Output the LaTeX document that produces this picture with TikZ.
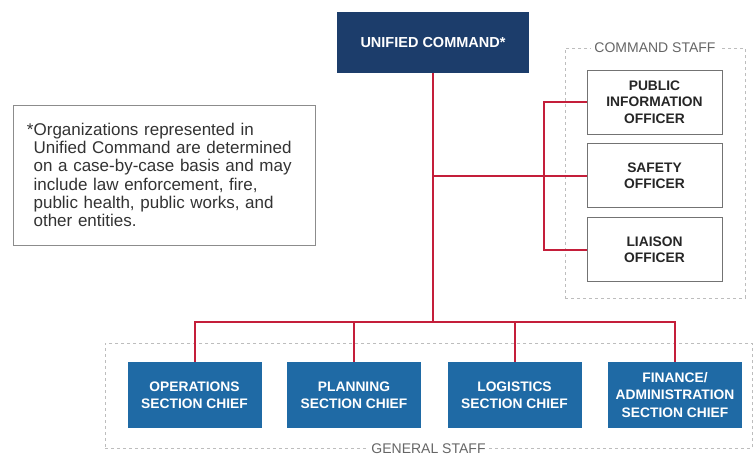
\documentclass[tikz,border=0pt]{standalone}
\usepackage{fontspec}
\setmainfont{Liberation Sans}
\definecolor{ucnavy}{HTML}{1C3D6B}
\definecolor{gsblue}{HTML}{1F6AA5}
\definecolor{linkred}{HTML}{C41E3A}
\definecolor{framegray}{HTML}{BDBDBD}
\definecolor{labelgray}{HTML}{666666}
\tikzstyle{orglink}=[draw=linkred,line width=2pt]
\tikzstyle{commandbox}=[fill=ucnavy,text=white,font=\bfseries\fontsize{14.5}{16}\selectfont,minimum width=192pt,minimum height=61pt]
\tikzstyle{sectionbox}=[fill=gsblue,text=white,align=center,font=\bfseries\fontsize{13.8}{17.5}\selectfont,minimum width=134pt,minimum height=66pt]
\tikzstyle{officerbox}=[draw=black!55,line width=0.9pt,fill=white,align=center,text=black!85,font=\bfseries\fontsize{13.8}{16.5}\selectfont,minimum width=135pt,minimum height=64pt]
\tikzstyle{staffframe}=[draw=framegray,dashed,line width=0.9pt]
\tikzstyle{stafflabel}=[fill=white,text=labelgray,inner sep=3pt,font=\fontsize{14}{16}\selectfont]
\tikzstyle{notebox}=[draw=black!45,line width=0.8pt,minimum width=302pt,minimum height=140pt,text width=274pt,align=left,text=black!80,font=\fontsize{17}{18.2}\selectfont]

\begin{document}
\begin{tikzpicture}
\useasboundingbox[fill=white] (0pt,0pt) rectangle (754pt,-456pt);

% staff frames
\node[staffframe,minimum width=180pt,minimum height=250pt] (CSFRAME) at (655pt,-173pt) {};
\node[stafflabel] (CSLABEL) at (CSFRAME.north) {COMMAND STAFF};
\node[staffframe,minimum width=647pt,minimum height=105pt] (GSFRAME) at (428.5pt,-395.5pt) {};
\node[stafflabel] (GSLABEL) at (GSFRAME.south) {GENERAL STAFF};

% boxes
\node[commandbox] (UC) at (433pt,-42.5pt) {UNIFIED COMMAND*};

\node[officerbox] (PIO) at (654.5pt,-102pt) {PUBLIC\\INFORMATION\\OFFICER};
\node[officerbox] (SO) at (654.5pt,-175.5pt) {SAFETY\\OFFICER};
\node[officerbox] (LO) at (654.5pt,-249.5pt) {LIAISON\\OFFICER};

\node[sectionbox] (OPS) at (194.5pt,-395pt) {OPERATIONS\\SECTION CHIEF};
\node[sectionbox] (PLAN) at (354pt,-395pt) {PLANNING\\SECTION CHIEF};
\node[sectionbox] (LOG) at (514.5pt,-395pt) {LOGISTICS\\SECTION CHIEF};
\node[sectionbox] (FIN) at (675pt,-395pt) {FINANCE/\\ADMINISTRATION\\SECTION CHIEF};

\node[notebox] (NOTE) at (164pt,-175pt) {*Organizations represented in\\
\hphantom{*}Unified Command are determined\\
\hphantom{*}on a case-by-case basis and may\\
\hphantom{*}include law enforcement, fire,\\
\hphantom{*}public health, public works, and\\
\hphantom{*}other entities.};

% links
\coordinate (BUS) at (UC.south |- 0pt,-322pt);
\coordinate (CSJOIN) at (UC.south |- SO.west);
\coordinate (BRACKET) at (544pt,-175.5pt);

\draw[orglink] (UC.south) -- (BUS);
\draw[orglink] (CSJOIN) -- (SO.west);
\draw[orglink] (PIO.west) -| (BRACKET) |- (LO.west);

\draw[orglink] (OPS.north) |- (BUS) -| (FIN.north);
\draw[orglink] (PLAN.north) -- (PLAN.north |- BUS);
\draw[orglink] (LOG.north) -- (LOG.north |- BUS);

\end{tikzpicture}
\end{document}
